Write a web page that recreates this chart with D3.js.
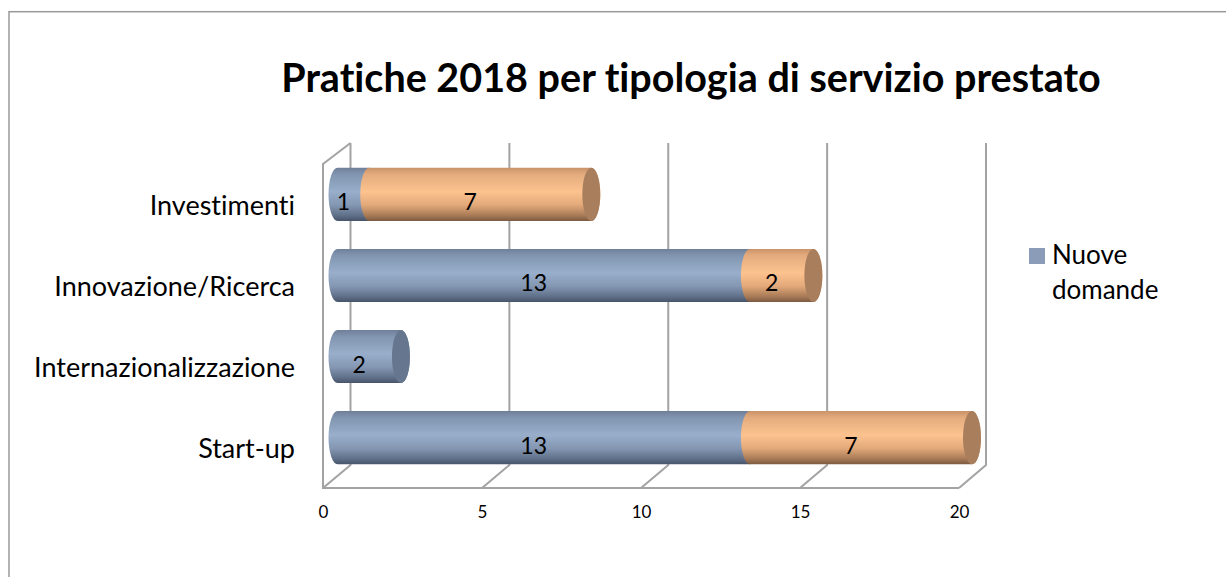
<!DOCTYPE html>
<html><head><meta charset="utf-8">
<script src="https://cdnjs.cloudflare.com/ajax/libs/d3/7.8.5/d3.min.js"></script>
<style>html,body{margin:0;background:#fff}svg{display:block}text{font-family:Lato,Carlito,sans-serif;fill:#000;font-variant-ligatures:none}</style>
</head><body><svg id="c" width="1226" height="577"></svg>
<script>
const categories = ["Investimenti","Innovazione/Ricerca","Internazionalizzazione","Start-up"];
const nuoveDomande = [1,13,2,13];
const altreDomande = [7,2,0,7];
const ticks = [0,5,10,15,20];
const seriesName = "Nuove domande";
const titleText = "Pratiche 2018 per tipologia di servizio prestato";

const svg = d3.select("#c");
const x = d3.scaleLinear().domain([0,20]).range([337.5,972]);
const xFront = d3.scaleLinear().domain([0,20]).range([323,959]);
const xBack = d3.scaleLinear().domain([0,20]).range([350.5,986]);
const y = d3.scaleBand().domain(categories).range([154,478]).paddingInner(0.345).paddingOuter(0.17);
const rx=9;

svg.append("rect").attr("x",9).attr("y",11.7).attr("width",1240).attr("height",600).attr("fill","#fff").attr("stroke","#9a9a9a").attr("stroke-width",1.5);

const defs=svg.append("defs");
function grad(id,stops){const g=defs.append("linearGradient").attr("id",id).attr("x1",0).attr("y1",0).attr("x2",0).attr("y2",1);
 stops.forEach(([o,c])=>g.append("stop").attr("offset",o).attr("stop-color",c));}
grad("blue",[[0,"#6f7f99"],[0.12,"#8195b0"],[0.45,"#98aeca"],[0.7,"#8497b3"],[0.9,"#5f6f88"],[1,"#47546a"]]);
grad("orange",[[0,"#c99268"],[0.12,"#e3ab7d"],[0.45,"#fcc38f"],[0.7,"#e3a97a"],[0.9,"#a77a56"],[1,"#7c5a40"]]);

// walls
const gl=svg.append("g").attr("fill","none").attr("stroke","#a3a3a3").attr("stroke-width",2);
ticks.forEach(t=>{
  gl.append("path").attr("d",d3.line()([[xBack(t),143],[xBack(t),465],[xFront(t),488]]));
});
gl.append("path").attr("d",d3.line()([[xBack(0),143],[xFront(0),164],[xFront(0),488],[xFront(20),488]]));

// bars
const stack=categories.map((c,i)=>({c,a:nuoveDomande[i],b:altreDomande[i]}));
const cyl=(x0,x1,top,h)=>{const ry=h/2;return `M${x0},${top}L${x1},${top}A${rx},${ry} 0 0 1 ${x1},${top+h}L${x0},${top+h}A${rx},${ry} 0 0 1 ${x0},${top}Z`;};
const bars=svg.append("g");
stack.forEach(d=>{
  const top=y(d.c),h=y.bandwidth(),ry=h/2;
  const x1=x(d.a),x2=x(d.a+d.b);
  bars.append("path").attr("d",cyl(x(0),x1,top,h)).attr("fill","url(#blue)");
  if(d.b>0){
    bars.append("path").attr("d",cyl(x1,x2,top,h)).attr("fill","url(#orange)");
    bars.append("ellipse").attr("cx",x2).attr("cy",top+ry).attr("rx",rx).attr("ry",ry).attr("fill","#a97e5c");
  } else {
    bars.append("ellipse").attr("cx",x1).attr("cy",top+ry).attr("rx",rx).attr("ry",ry).attr("fill","#66768f");
  }
  const lab=(v,from)=>bars.append("text").attr("x",x(from+v/2)-10).attr("y",top+ry+16).attr("text-anchor","middle").attr("font-size",23).text(v);
  lab(d.a,0); if(d.b>0) lab(d.b,d.a);
});

// category labels
const ya=svg.append("g").attr("transform","translate(295,11)").call(d3.axisLeft(y).tickSize(0).tickPadding(0));
ya.select(".domain").remove();
ya.selectAll("text").attr("font-size",27).attr("dy","0.36em").style("font-family","Lato");

// value axis
const xa=svg.append("g").attr("transform","translate(0,488)").call(d3.axisBottom(xFront).tickValues(ticks).tickSize(0).tickPadding(18));
xa.select(".domain").remove();
xa.selectAll("text").attr("font-size",17).style("font-family","Lato");

// title
svg.append("text").attr("x",691).attr("y",91.5).attr("text-anchor","middle").attr("font-size",39.5).attr("font-weight",700).text(titleText);

// legend
svg.append("rect").attr("x",1029).attr("y",248).attr("width",16).attr("height",16).attr("fill","#8a9cb8");
const words=seriesName.split(" ");
svg.append("text").attr("x",1052).attr("y",264).attr("font-size",26).text(words[0]);
svg.append("text").attr("x",1052).attr("y",298.5).attr("font-size",26).text(words[1]);
</script></body></html>
